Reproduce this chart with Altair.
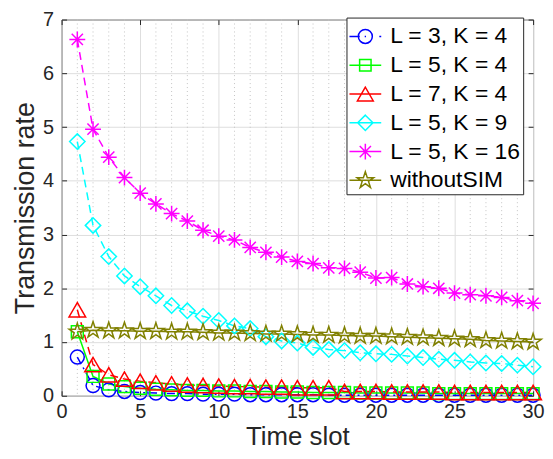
import math
import altair as alt
import pandas as pd

# ---------------- data ----------------
time_slot = list(range(1, 31))
series_names = ["L = 3, K = 4", "L = 5, K = 4", "L = 7, K = 4",
                "L = 5, K = 9", "L = 5, K = 16", "withoutSIM"]

rate_L3_K4 = [0.72, 0.19, 0.11, 0.08, 0.06, 0.05, 0.04, 0.04, 0.03, 0.03,
              0.03, 0.02, 0.02, 0.02, 0.02, 0.02, 0.01, 0.01, 0.01, 0.01,
              0.01, 0.01, 0.01, 0.01, 0.01, 0.01, 0.01, 0.01, 0.01, 0.01]
rate_L5_K4 = [1.19, 0.36, 0.22, 0.17, 0.14, 0.12, 0.11, 0.10, 0.10, 0.09,
              0.09, 0.08, 0.08, 0.07, 0.07, 0.06, 0.06, 0.06, 0.05, 0.05,
              0.05, 0.05, 0.05, 0.04, 0.04, 0.04, 0.04, 0.04, 0.04, 0.04]
rate_L7_K4 = [1.60, 0.58, 0.39, 0.31, 0.27, 0.24, 0.22, 0.20, 0.19, 0.18,
              0.17, 0.17, 0.16, 0.16, 0.15, 0.15, 0.15, 0.08, 0.08, 0.08,
              0.07, 0.07, 0.07, 0.07, 0.06, 0.06, 0.06, 0.06, 0.06, 0.06]
rate_L5_K9 = [4.73, 3.17, 2.59, 2.23, 2.03, 1.86, 1.68, 1.58, 1.48, 1.40,
              1.30, 1.25, 1.10, 1.02, 0.98, 0.90, 0.86, 0.84, 0.80, 0.78,
              0.77, 0.74, 0.71, 0.68, 0.66, 0.63, 0.61, 0.60, 0.57, 0.54]
rate_L5_K16 = [6.63, 4.96, 4.44, 4.06, 3.77, 3.57, 3.39, 3.25, 3.08, 2.97,
               2.90, 2.76, 2.67, 2.58, 2.50, 2.46, 2.38, 2.37, 2.30, 2.19,
               2.20, 2.08, 2.03, 2.00, 1.91, 1.88, 1.86, 1.83, 1.77, 1.72]
rate_without = [1.19, 1.22, 1.21, 1.21, 1.20, 1.20, 1.19, 1.19, 1.18, 1.17,
                1.17, 1.16, 1.15, 1.15, 1.14, 1.13, 1.13, 1.12, 1.11, 1.11,
                1.10, 1.09, 1.08, 1.07, 1.06, 1.05, 1.03, 1.02, 1.01, 1.00]

x_major_ticks = [0, 5, 10, 15, 20, 25, 30]
x_minor_grid = [1, 2, 3, 4, 6, 7, 8, 9, 11, 12, 13, 14, 16, 17, 18, 19,
                21, 22, 23, 24, 26, 27, 28, 29]
y_ticks = [0, 1, 2, 3, 4, 5, 6, 7]

all_rates = [rate_L3_K4, rate_L5_K4, rate_L7_K4, rate_L5_K9, rate_L5_K16, rate_without]

rows = []
for name, vals in zip(series_names, all_rates):
    for t, v in zip(time_slot, vals):
        rows.append({"series": name, "x": t, "y": v})
df = pd.DataFrame(rows)
grid_df = pd.DataFrame({"x": x_minor_grid})

# ---------------- styles ----------------
FONT = "Liberation Sans"
AX = "#262626"
colors = ["#0000FF", "#00FF00", "#FF0000", "#00FFFF", "#FF00FF", "#808000"]
dashes = [[8, 4, 2, 4], None, [8, 5], [8, 5], [8, 5], None]


def f(v):
    return f"{v:.3f}"


def circle_p(k):
    return f"M{f(-k)},0A{f(k)},{f(k)} 0 1,0 {f(k)},0A{f(k)},{f(k)} 0 1,0 {f(-k)},0Z"


def square_p(k):
    return f"M{f(-k)},{f(-k)}H{f(k)}V{f(k)}H{f(-k)}Z"


def tri_p(r):
    h = 0.866 * r
    return f"M0,{f(-h)}L{f(-r)},{f(h)}L{f(r)},{f(h)}Z"


def diamond_p(r):
    return f"M0,{f(-r)}L{f(r)},0L0,{f(r)}L{f(-r)},0Z"


def aster_p(k):
    d = 0.707 * k
    return (f"M{f(-k)},0H{f(k)}M0,{f(-k)}V{f(k)}"
            f"M{f(-d)},{f(-d)}L{f(d)},{f(d)}M{f(-d)},{f(d)}L{f(d)},{f(-d)}")


def star_p(k):
    pts = []
    for i in range(10):
        ang = math.radians(-90 + 36 * i)
        r = k if i % 2 == 0 else k * 0.382
        pts.append((r * math.cos(ang), r * math.sin(ang)))
    return "M" + "L".join(f"{f(px)},{f(py)}" for px, py in pts) + "Z"


marker_shapes = ["circle", "square", "triangle-up", "diamond", aster_p(1.0), star_p(1.0)]
marker_sizes = [196, 144, 280, 240, 256, 300]

full_line = "M-1,0H1"
legend_shapes = [
    "M-1,0H-0.35M-0.04,0H0.04M0.88,0H1" + circle_p(0.44),
    full_line + square_p(0.36),
    full_line + tri_p(0.5),
    full_line + diamond_p(0.48),
    full_line + aster_p(0.5),
    full_line + star_p(0.55),
]

xs = alt.Scale(domain=[0, 30], nice=False, zero=False)
ys = alt.Scale(domain=[0, 7], nice=False, zero=False)

main_x_axis = alt.Axis(orient="bottom", values=x_major_ticks, title="Time slot",
                       titleFont=FONT, titleFontSize=26, titleFontWeight="normal",
                       titleColor=AX, titlePadding=2,
                       labelFont=FONT, labelFontSize=20, labelColor=AX,
                       labelFlush=False, labelOverlap=False, labelPadding=6,
                       tickSize=5, tickColor=AX, offset=-5, domain=False,
                       grid=True, gridColor="#dedede", gridWidth=1)
main_y_axis = alt.Axis(orient="left", values=y_ticks, title="Transmission rate",
                       titleFont=FONT, titleFontSize=27, titleFontWeight="normal",
                       titleColor=AX, titlePadding=3,
                       labelFont=FONT, labelFontSize=20, labelColor=AX,
                       labelFlush=False, labelOverlap=False, labelPadding=8,
                       tickSize=5, tickColor=AX, offset=-5, domain=False,
                       grid=True, gridColor="#dedede", gridWidth=1)
top_x_axis = alt.Axis(orient="top", values=x_major_ticks, title=None, labels=False,
                      tickSize=5, tickColor=AX, offset=-5, domain=False, grid=False)
right_y_axis = alt.Axis(orient="right", values=y_ticks, title=None, labels=False,
                        tickSize=5, tickColor=AX, offset=-5, domain=False, grid=False)

layers = []

# minor dotted x grid
layers.append(
    alt.Chart(grid_df).mark_rule(color="#c4c4c4", strokeDash=[1, 3], strokeWidth=1)
    .encode(x=alt.X("x:Q", scale=xs, axis=main_x_axis))
)

base = alt.Chart(df)
first = True
for name, col, dash in zip(series_names, colors, dashes):
    kw = dict(color=col, strokeWidth=1.5)
    if dash is not None:
        kw["strokeDash"] = dash
    layers.append(
        base.transform_filter(alt.datum.series == name).mark_line(**kw).encode(
            x=alt.X("x:Q", scale=xs, axis=None),
            y=alt.Y("y:Q", scale=ys, axis=main_y_axis if first else None),
        )
    )
    first = False

for name, col, shp, sz in zip(series_names, colors, marker_shapes, marker_sizes):
    layers.append(
        base.transform_filter(alt.datum.series == name)
        .mark_point(filled=False, color=col, shape=shp, size=sz, strokeWidth=1.5, opacity=1)
        .encode(x=alt.X("x:Q", scale=xs, axis=None),
                y=alt.Y("y:Q", scale=ys, axis=None))
    )

leg = alt.Legend(title=None, orient="none", legendX=287, legendY=-2,
                 labelFont=FONT, labelFontSize=23, labelColor="black", labelLimit=400,
                 labelOffset=8, symbolSize=1024, symbolStrokeWidth=1.5,
                 symbolOpacity=1, padding=2, rowPadding=0,
                 strokeColor=AX, fillColor="white")

layers.append(
    base.transform_filter(alt.datum.x < 0)
    .mark_point(filled=False, strokeWidth=1.5)
    .encode(
        x=alt.X("x:Q", scale=xs, axis=top_x_axis),
        y=alt.Y("y:Q", scale=ys, axis=right_y_axis),
        color=alt.Color("series:N", scale=alt.Scale(domain=series_names, range=colors), legend=leg),
        shape=alt.Shape("series:N", scale=alt.Scale(domain=series_names, range=legend_shapes), legend=leg),
    )
)

chart = (
    alt.layer(*layers)
    .resolve_axis(x="independent", y="independent")
    .properties(width=475, height=379,
                autosize=alt.AutoSizeParams(type="none"),
                padding={"left": 54, "top": 10, "right": 12, "bottom": 54},
                background="white")
    .configure_view(stroke=AX, strokeWidth=1)
)

chart.save("out.html", embed_options={"renderer": "svg", "actions": False})
